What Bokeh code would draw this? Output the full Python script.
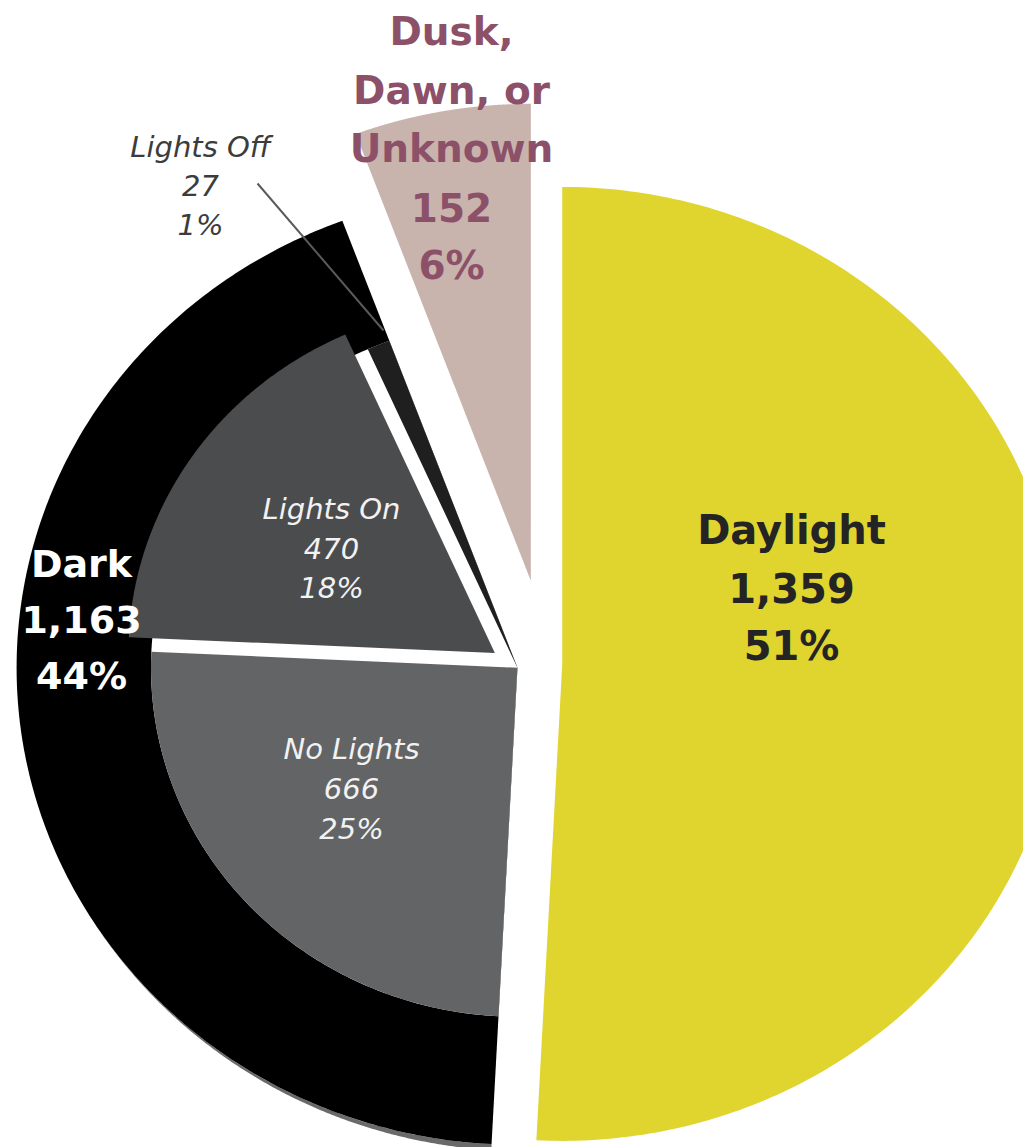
import textwrap
import numpy as np
from bokeh.plotting import figure
from bokeh.models import Range1d
from bokeh.embed import file_html
from bokeh.resources import INLINE
from bokeh.core.properties import value

# ---------------- data ----------------
outer_labels = ["Daylight", "Dusk, Dawn, or Unknown", "Dark"]
outer_counts = [1359, 152, 1163]
outer_pcts = ["51%", "6%", "44%"]

inner_labels = ["Lights Off", "Lights On", "No Lights"]
inner_counts = [27, 470, 666]
inner_pcts = ["1%", "18%", "25%"]

# ---------------- layout / style ----------------
W, H = 1023, 1147
SX = 1.05                     # horizontal pixels per data unit
CENTER = (520.0, 484.0)       # pie centre (data units, y up)
R_OUT = 477.0
R_IN = 349.0
EXPLODE_OUT = [15.0, 84.0, 28.0]
EXPLODE_IN = [0.0, 26.0, 0.0]

outer_colors = ["#E0D42F", "#C8B4AD", "#000000"]
inner_colors = ["#1F1F1F", "#4B4C4E", "#636466"]
shadow_color = "#6A6A6A"

# label anchors in screen pixels: (center x, first baseline y, line step)
outer_label_pos = [(791, 529, 58), (451, 31, 58.5), (81, 563, 56)]
outer_label_size = ["40px", "39px", "38px"]
outer_label_color = ["#242424", "#8C5169", "#FFFFFF"]
inner_label_pos = [(200, 146, 39), (331, 508, 39.5), (351, 748, 40)]
inner_label_color = ["#3C3C3C", "#F2F2F2", "#F2F2F2"]
leader = [(257, 183), (383, 330)]


def sx(x):
    return x / SX


def sy(y):
    return H - y


def wedge(cx, cy, r, a0, a1, n=240):
    t = np.radians(np.linspace(a0, a1, n))
    xs = np.concatenate([[cx], cx + r * np.cos(t)])
    ys = np.concatenate([[cy], cy + r * np.sin(t)])
    return list(xs), list(ys)


total = sum(outer_counts)
spans = [360.0 * c / total for c in outer_counts]
# Daylight runs clockwise from 12 o'clock, the rest counter-clockwise
outer_angles = [
    (90.0 - spans[0], 90.0),
    (90.0, 90.0 + spans[1]),
    (90.0 + spans[1], 90.0 + spans[1] + spans[2]),
]

p = figure(width=W, height=H, x_range=Range1d(0, W / SX), y_range=Range1d(0, H),
           toolbar_location=None, output_backend="svg",
           x_axis_type=None, y_axis_type=None, min_border=0)
p.grid.visible = False
p.outline_line_color = None
p.background_fill_color = "white"
p.border_fill_color = "white"

apexes = []
for (a0, a1), d in zip(outer_angles, EXPLODE_OUT):
    mid = np.radians((a0 + a1) / 2)
    apexes.append((CENTER[0] + d * np.cos(mid), CENTER[1] + d * np.sin(mid)))

# outer slices: Daylight, Dusk
for i in (0, 1):
    xs, ys = wedge(apexes[i][0], apexes[i][1], R_OUT, *outer_angles[i])
    p.patch(xs, ys, fill_color=outer_colors[i], line_color=None)

# tapered shadow under the lower arc of the Dark slice
dk = apexes[2]
t_deg = np.linspace(212.0, outer_angles[2][1], 200)
t = np.radians(t_deg)
off = 6.0 * (t_deg - t_deg[0]) / (t_deg[-1] - t_deg[0])
ax_ = dk[0] + R_OUT * np.cos(t)
ay_ = dk[1] + R_OUT * np.sin(t)
p.patch(list(ax_) + list(ax_[::-1]), list(ay_) + list((ay_ - off)[::-1]),
        fill_color=shadow_color, line_color=None)

xs, ys = wedge(dk[0], dk[1], R_OUT, *outer_angles[2])
p.patch(xs, ys, fill_color=outer_colors[2], line_color=None)

# white base for the inner breakdown (so the gaps read as white)
xs, ys = wedge(dk[0], dk[1], R_IN, *outer_angles[2])
p.patch(xs, ys, fill_color="white", line_color=None)

# inner breakdown of Dark
a = outer_angles[2][0]
inner_angles = []
for c in inner_counts:
    s = 360.0 * c / total
    inner_angles.append((a, a + s))
    a += s
for (a0, a1), d, col in zip(inner_angles, EXPLODE_IN, inner_colors):
    mid = np.radians((a0 + a1) / 2)
    cx, cy = dk[0] + d * np.cos(mid), dk[1] + d * np.sin(mid)
    xs, ys = wedge(cx, cy, R_IN, a0, a1)
    p.patch(xs, ys, fill_color=col, line_color=None)

# leader line for Lights Off
p.line([sx(leader[0][0]), sx(leader[1][0])], [sy(leader[0][1]), sy(leader[1][1])],
       line_color="#5A5A5A", line_width=2)


def lines_for(name, count, pct):
    return textwrap.wrap(name, 10) + [f"{count:,}", pct]


for name, cnt, pct, (x0, y0, step), size, col in zip(
        outer_labels, outer_counts, outer_pcts, outer_label_pos,
        outer_label_size, outer_label_color):
    ls = lines_for(name, cnt, pct)
    p.text(x=[sx(x0)] * len(ls), y=[sy(y0 + k * step) for k in range(len(ls))], text=ls,
           text_font=value("DejaVu Sans"), text_font_size=size, text_font_style="bold",
           text_color=col, text_align="center", text_baseline="alphabetic")

for name, cnt, pct, (x0, y0, step), col in zip(
        inner_labels, inner_counts, inner_pcts, inner_label_pos, inner_label_color):
    ls = lines_for(name, cnt, pct)
    p.text(x=[sx(x0)] * len(ls), y=[sy(y0 + k * step) for k in range(len(ls))], text=ls,
           text_font=value("DejaVu Sans"), text_font_size="29px", text_font_style="italic",
           text_color=col, text_align="center", text_baseline="alphabetic")

open("out.html", "w").write(file_html(p, INLINE))
